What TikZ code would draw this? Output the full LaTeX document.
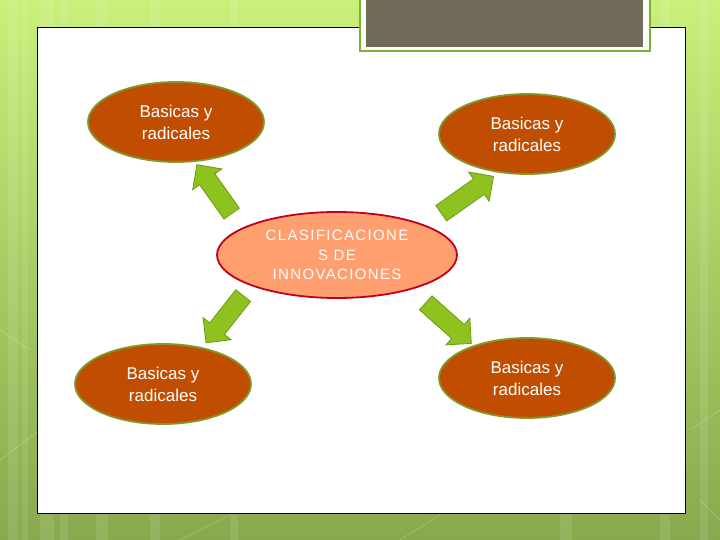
\documentclass[tikz,border=0pt]{standalone}
\usepackage{fontspec}
\setmainfont{Liberation Sans}
\newfontfamily\spacedfont[LetterSpace=9]{Liberation Sans}
\usetikzlibrary{shapes.geometric,shapes.arrows}
\definecolor{bgtop}{HTML}{C8F07A}
\definecolor{bgbot}{HTML}{88A94E}
\definecolor{ovfill}{HTML}{C14E00}
\definecolor{ovline}{HTML}{7F9A2A}
\definecolor{cfill}{HTML}{FF9E6E}
\definecolor{cline}{HTML}{C0001E}
\definecolor{arfill}{HTML}{8DC21F}
\definecolor{arline}{HTML}{6B9A12}
\definecolor{titlegrey}{HTML}{71695A}
\definecolor{titleline}{HTML}{86AA36}
\tikzset{
  oval/.style={ellipse, draw=ovline, line width=1.8pt, fill=ovfill, text=white,
    minimum width=176pt, minimum height=80pt, inner sep=0pt, align=center,
    font=\fontsize{17}{22}\selectfont},
  centre/.style={ellipse, draw=cline, line width=1.8pt, fill=cfill, text=white,
    minimum width=240pt, minimum height=86pt, inner sep=0pt, align=center,
    font=\spacedfont\fontsize{15}{19.5}\selectfont},
  blockarrow/.style={single arrow, draw=arline, line width=0.8pt, fill=arfill,
    minimum width=35pt, minimum height=60pt, single arrow head extend=8.5pt,
    single arrow head indent=0pt, inner xsep=0pt, inner ysep=9pt,
    text height=0pt, text depth=0pt, text width=0pt}
}
\begin{document}
\begin{tikzpicture}[x=1pt,y=-1pt]
\useasboundingbox (0,0) rectangle (720,540);
% background
\shade[top color=bgtop, bottom color=bgbot] (0,0) rectangle (720,540);
\foreach \xx/\ww in {8/10,22/6,40/14,60/8,96/12,150/10,230/8,560/12,660/10,700/8}
  \fill[white, opacity=0.10] (\xx,0) rectangle ++(\ww,540);
\draw[white, opacity=0.25, line width=0.6pt] (0,460) -- (40,430) -- (40,380) (0,330) -- (30,350)
  (690,430) -- (720,410) (700,500) -- (720,520) (180,540) -- (230,515) (400,540) -- (440,515);
% white panel
\node[draw=black, line width=1pt, fill=white, inner sep=0pt, minimum width=648pt,
  minimum height=486pt, anchor=north west] (panel) at (37,27) {};
% title box
\node[draw=titleline, line width=2pt, fill=white!96!green, inner sep=0pt, minimum width=290pt,
  minimum height=62pt, anchor=south west] (titlebox) at (359,52) {};
\node[fill=titlegrey, inner sep=0pt, minimum width=277pt, minimum height=55pt,
  anchor=south west] (titlefill) at (366,47.5) {};
% ovals
\node[oval] (tl) at (176,122) {Basicas y\\radicales};
\node[oval] (tr) at (527,134) {Basicas y\\radicales};
\node[oval] (bl) at (163,384) {Basicas y\\radicales};
\node[oval] (br) at (527,378) {Basicas y\\radicales};
\node[centre] (c) at (337,255) {CLASIFICACIONE\\S DE\\INNOVACIONES};
% arrows
\node[blockarrow, rotate=125.4] (a1) at (217,193) {};
\node[blockarrow, rotate=35.2, minimum height=64pt] (a2) at (463.5,197.5) {};
\node[blockarrow, rotate=231.8] (a3) at (227.5,315.5) {};
\node[blockarrow, rotate=-41.7, minimum height=61pt] (a4) at (445,320) {};
\end{tikzpicture}
\end{document}
